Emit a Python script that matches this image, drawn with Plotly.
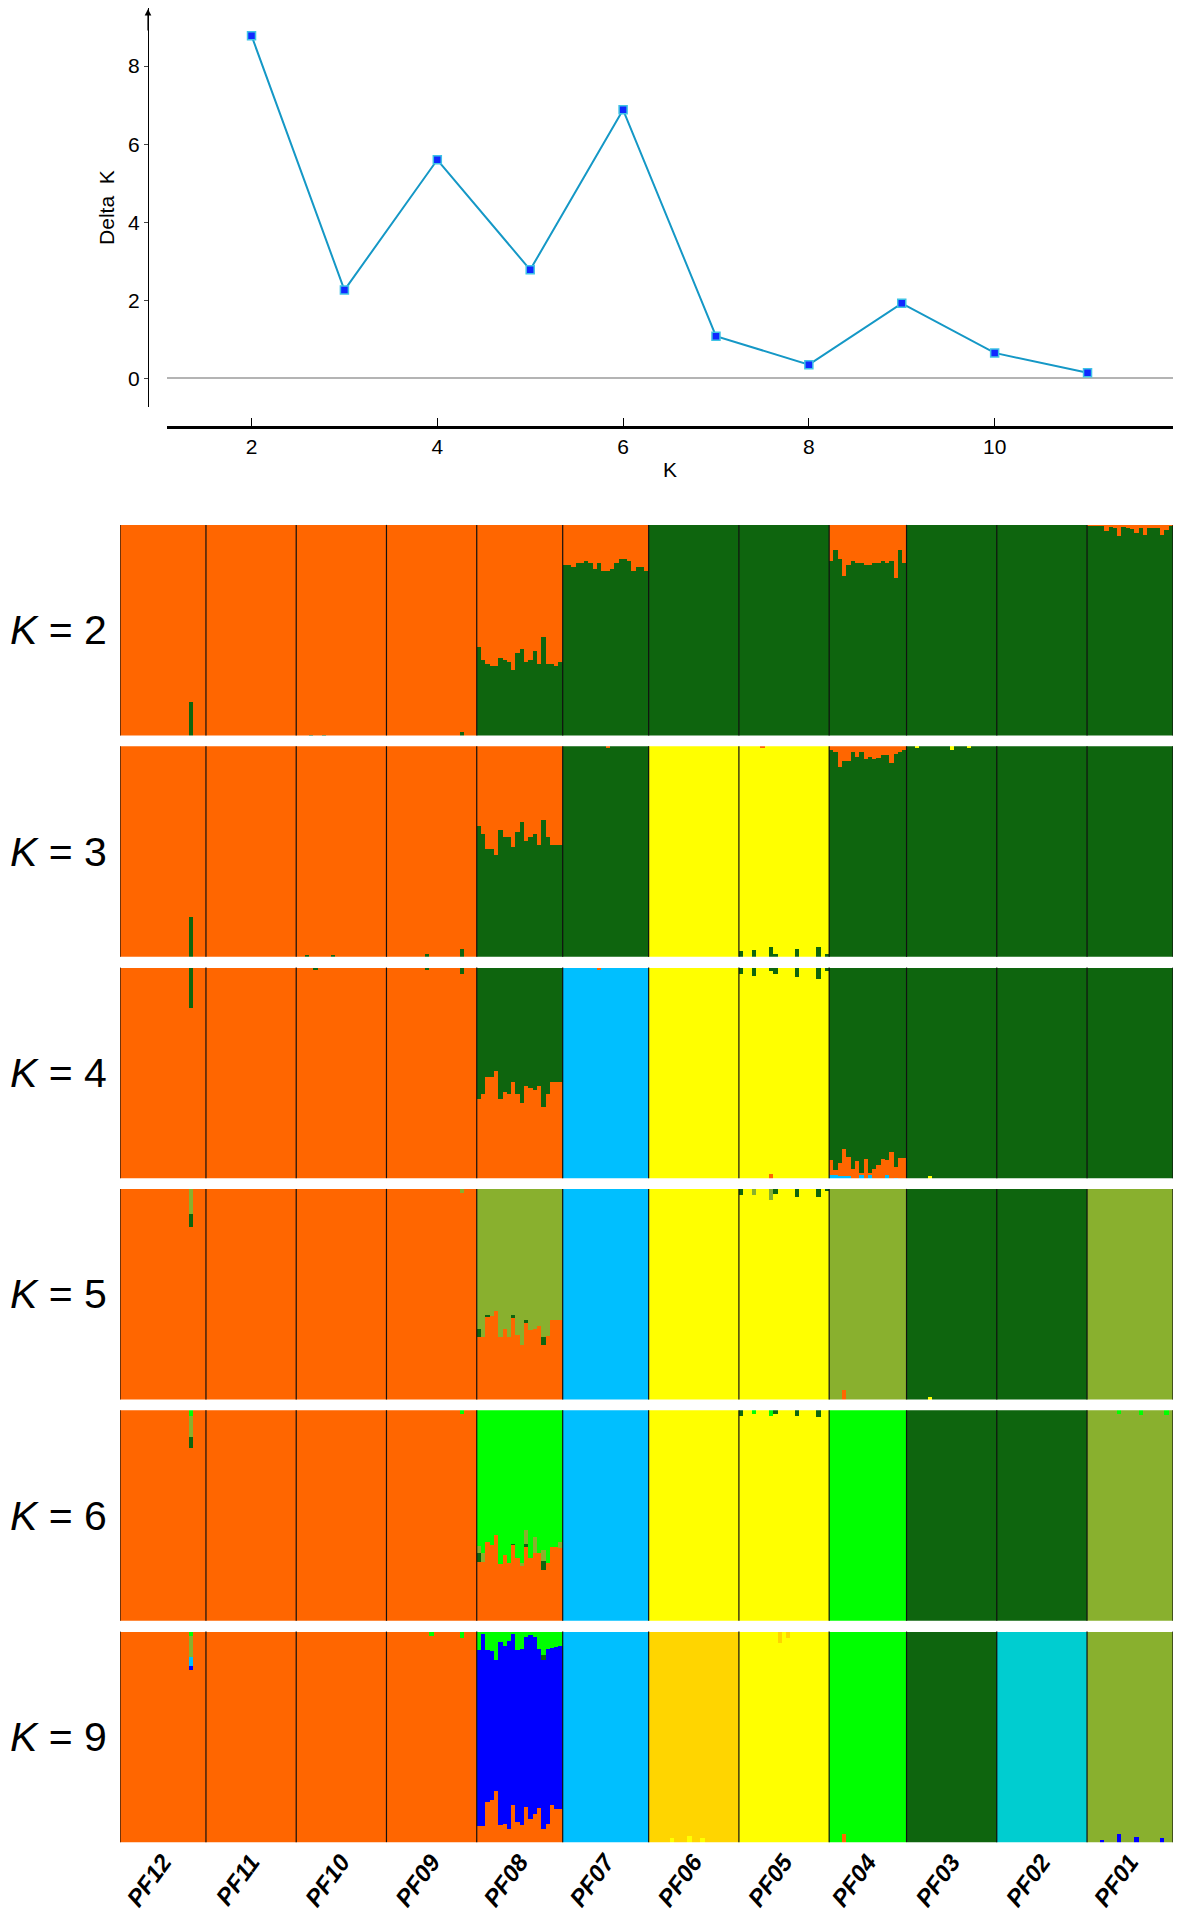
import plotly.graph_objects as go

# the page body adds an 8 px margin on every side; keep the figure inside the window
PAD = 8
W, H = 1181 - 2 * PAD, 1920 - 2 * PAD

# ---- Delta K plot data ----
k_values = [2, 3, 4, 5, 6, 7, 8, 9, 10, 11]
delta_k = [8.78, 2.26, 5.60, 2.78, 6.88, 1.08, 0.35, 1.92, 0.65, 0.14]

# ---- STRUCTURE bar plot data ----
pops = ["PF12", "PF11", "PF10", "PF09", "PF08", "PF07", "PF06", "PF05", "PF04", "PF03", "PF02", "PF01"]
n_ind = [20, 21, 21, 21, 20, 20, 21, 21, 18, 21, 21, 20]
k_panels = [2, 3, 4, 5, 6, 9]

colors = {
    "orange": "#FF6600",
    "dkgreen": "#0E650E",
    "yellow": "#FFFF00",
    "sky": "#00BFFF",
    "olive": "#89B02E",
    "lime": "#00FF00",
    "blue": "#0000FF",
    "gold": "#FFD500",
    "teal": "#00CDD0",
}

# bottom -> top stacking order for each K
stack_order = {
    2: ["dkgreen", "orange"],
    3: ["dkgreen", "yellow", "orange"],
    4: ["sky", "orange", "yellow", "dkgreen"],
    5: ["orange", "sky", "yellow", "dkgreen", "olive"],
    6: ["orange", "sky", "yellow", "dkgreen", "olive", "lime"],
    9: ["orange", "blue", "yellow", "gold", "sky", "teal", "dkgreen", "olive", "lime"],
}

# cluster that takes the remaining share, per population (PF12 ... PF01)
dominant = {
    2: ["orange"] * 5 + ["dkgreen"] * 7,
    3: ["orange"] * 5 + ["dkgreen", "yellow", "yellow"] + ["dkgreen"] * 4,
    4: ["orange"] * 4 + ["dkgreen", "sky", "yellow", "yellow"] + ["dkgreen"] * 4,
    5: ["orange"] * 4 + ["olive", "sky", "yellow", "yellow", "olive", "dkgreen", "dkgreen", "olive"],
    6: ["orange"] * 4 + ["lime", "sky", "yellow", "yellow", "lime", "dkgreen", "dkgreen", "olive"],
    9: ["orange"] * 4 + ["blue", "sky", "gold", "yellow", "lime", "dkgreen", "teal", "olive"],
}

# admixed populations, one value per individual
k2_pf08_dkgreen = [0.42, 0.36, 0.34, 0.33, 0.33, 0.37, 0.36, 0.35, 0.31, 0.39,
                   0.41, 0.35, 0.36, 0.40, 0.34, 0.47, 0.34, 0.34, 0.33, 0.35]
k2_pf07_orange = [0.19, 0.19, 0.20, 0.18, 0.18, 0.17, 0.18, 0.21, 0.18, 0.22,
                  0.22, 0.21, 0.18, 0.16, 0.16, 0.17, 0.22, 0.20, 0.20, 0.22]
k2_pf04_orange = [0.17, 0.12, 0.16, 0.24, 0.19, 0.17, 0.18, 0.18, 0.19, 0.19,
                  0.18, 0.18, 0.17, 0.18, 0.17, 0.25, 0.12, 0.18]
k2_pf01_orange = [0.003, 0.003, 0.003, 0.003, 0.03, 0.01, 0.016, 0.05, 0.01, 0.016,
                  0.02, 0.04, 0.016, 0.047, 0.016, 0.013, 0.013, 0.047, 0.024, 0.004]
k3_pf08_dkgreen = [0.62, 0.58, 0.51, 0.51, 0.48, 0.60, 0.57, 0.57, 0.52, 0.59,
                   0.64, 0.55, 0.57, 0.58, 0.53, 0.65, 0.57, 0.53, 0.53, 0.53]
k3_pf04_orange = [0.02, 0.03, 0.10, 0.07, 0.07, 0.03, 0.05, 0.03, 0.06, 0.05,
                  0.06, 0.055, 0.045, 0.045, 0.08, 0.04, 0.03, 0.02]
k3_pf05_dkgreen = [0.028, 0, 0, 0.031, 0, 0, 0, 0.047, 0.012, 0, 0,
                   0, 0, 0.038, 0, 0, 0, 0, 0.044, 0, 0.01]
k4_pf08_orange = [0.38, 0.40, 0.48, 0.48, 0.51, 0.38, 0.41, 0.40, 0.46, 0.40,
                  0.36, 0.44, 0.43, 0.42, 0.44, 0.34, 0.40, 0.46, 0.46, 0.46]
k4_pf04_orange = [0.072, 0.025, 0.063, 0.129, 0.088, 0.044, 0.084, 0.005, 0.093, 0.005,
                  0.044, 0.065, 0.092, 0.072, 0.128, 0.052, 0.096, 0.096]
k4_pf04_sky = [0.016, 0.016, 0.01, 0.01, 0.013, 0, 0, 0.02, 0, 0.02,
               0, 0, 0, 0.016, 0, 0.005, 0, 0]
k4_pf05_dkgreen = [0.028, 0, 0, 0.036, 0, 0, 0, 0.016, 0.028, 0, 0,
                   0, 0, 0.044, 0, 0, 0, 0, 0.052, 0, 0.016]
k5_pf08_orange = [0.297, 0.297, 0.395, 0.395, 0.419, 0.297, 0.336, 0.297, 0.387, 0.305,
                  0.261, 0.363, 0.332, 0.336, 0.348, 0.258, 0.302, 0.379, 0.379, 0.379]
k6_pf08_orange = [0.28, 0.28, 0.372, 0.359, 0.407, 0.269, 0.312, 0.275, 0.359, 0.296,
                  0.259, 0.348, 0.296, 0.32, 0.32, 0.241, 0.275, 0.348, 0.348, 0.343]
k9_pf08_orange = [0.079, 0.079, 0.194, 0.202, 0.243, 0.084, 0.087, 0.063, 0.178, 0.098,
                  0.083, 0.17, 0.111, 0.135, 0.162, 0.063, 0.087, 0.179, 0.159, 0.159]
k9_pf08_lime = [0.087, 0.005, 0.087, 0.092, 0.132, 0.048, 0.068, 0.044, 0.005, 0.087,
                0.079, 0.024, 0.016, 0.024, 0.079, 0.111, 0.079, 0.076, 0.071, 0.067]

admix = {
    (2, "PF08", "dkgreen"): k2_pf08_dkgreen,
    (2, "PF07", "orange"): k2_pf07_orange,
    (2, "PF04", "orange"): k2_pf04_orange,
    (2, "PF01", "orange"): k2_pf01_orange,
    (3, "PF08", "dkgreen"): k3_pf08_dkgreen,
    (3, "PF04", "orange"): k3_pf04_orange,
    (3, "PF05", "dkgreen"): k3_pf05_dkgreen,
    (4, "PF08", "orange"): k4_pf08_orange,
    (4, "PF04", "orange"): k4_pf04_orange,
    (4, "PF04", "sky"): k4_pf04_sky,
    (4, "PF05", "dkgreen"): k4_pf05_dkgreen,
    (5, "PF08", "orange"): k5_pf08_orange,
    (6, "PF08", "orange"): k6_pf08_orange,
    (9, "PF08", "orange"): k9_pf08_orange,
    (9, "PF08", "lime"): k9_pf08_lime,
}

# single admixed individuals: (K, population, individual, cluster, share)
minor = [
    (2, "PF12", 16, "dkgreen", 0.16), (2, "PF09", 17, "dkgreen", 0.017),
    (2, "PF10", 3, "dkgreen", 0.005), (2, "PF10", 6, "dkgreen", 0.005),
    (3, "PF12", 16, "dkgreen", 0.19), (3, "PF09", 17, "dkgreen", 0.036),
    (3, "PF09", 9, "dkgreen", 0.01), (3, "PF10", 2, "dkgreen", 0.008),
    (3, "PF10", 8, "dkgreen", 0.006), (3, "PF03", 2, "yellow", 0.008),
    (3, "PF03", 10, "yellow", 0.019), (3, "PF03", 14, "yellow", 0.011),
    (3, "PF07", 10, "orange", 0.006), (3, "PF05", 5, "orange", 0.008),
    (4, "PF12", 16, "dkgreen", 0.19), (4, "PF09", 17, "dkgreen", 0.027),
    (4, "PF09", 9, "dkgreen", 0.01), (4, "PF10", 4, "dkgreen", 0.008),
    (4, "PF05", 7, "orange", 0.02), (4, "PF03", 5, "yellow", 0.01),
    (4, "PF07", 8, "orange", 0.008),
    (5, "PF08", 0, "dkgreen", 0.04), (5, "PF08", 2, "dkgreen", 0.008),
    (5, "PF08", 8, "dkgreen", 0.013), (5, "PF08", 11, "dkgreen", 0.013),
    (5, "PF08", 15, "dkgreen", 0.04),
    (5, "PF05", 0, "dkgreen", 0.028), (5, "PF05", 3, "olive", 0.03),
    (5, "PF05", 7, "olive", 0.05), (5, "PF05", 8, "dkgreen", 0.024),
    (5, "PF05", 13, "dkgreen", 0.036), (5, "PF05", 18, "dkgreen", 0.04),
    (5, "PF05", 20, "dkgreen", 0.01), (5, "PF04", 3, "orange", 0.044),
    (5, "PF12", 16, "dkgreen", 0.06), (5, "PF12", 16, "olive", 0.12),
    (5, "PF09", 17, "olive", 0.02), (5, "PF03", 5, "yellow", 0.01),
    (6, "PF08", 0, "dkgreen", 0.04), (6, "PF08", 8, "dkgreen", 0.005),
    (6, "PF08", 11, "dkgreen", 0.014), (6, "PF08", 15, "dkgreen", 0.044),
    (6, "PF08", 0, "olive", 0.032), (6, "PF08", 1, "olive", 0.04),
    (6, "PF08", 10, "olive", 0.013), (6, "PF08", 11, "olive", 0.068),
    (6, "PF08", 13, "olive", 0.079), (6, "PF08", 15, "olive", 0.05),
    (6, "PF08", 19, "olive", 0.032),
    (6, "PF05", 0, "dkgreen", 0.03), (6, "PF05", 8, "dkgreen", 0.02),
    (6, "PF05", 13, "dkgreen", 0.03), (6, "PF05", 18, "dkgreen", 0.035),
    (6, "PF05", 3, "lime", 0.02), (6, "PF05", 7, "lime", 0.03),
    (6, "PF01", 7, "lime", 0.02), (6, "PF01", 12, "lime", 0.024),
    (6, "PF01", 18, "lime", 0.024),
    (6, "PF12", 16, "dkgreen", 0.05), (6, "PF12", 16, "olive", 0.10),
    (6, "PF12", 16, "lime", 0.03),
    (6, "PF09", 17, "lime", 0.02),
    (9, "PF08", 15, "dkgreen", 0.024),
    (9, "PF12", 16, "blue", 0.02), (9, "PF12", 16, "lime", 0.02),
    (9, "PF12", 16, "sky", 0.04), (9, "PF12", 16, "olive", 0.10),
    (9, "PF06", 5, "yellow", 0.02), (9, "PF06", 9, "yellow", 0.03),
    (9, "PF06", 12, "yellow", 0.02),
    (9, "PF05", 9, "gold", 0.05), (9, "PF05", 11, "gold", 0.03),
    (9, "PF04", 3, "orange", 0.04),
    (9, "PF01", 3, "blue", 0.01), (9, "PF01", 7, "blue", 0.04),
    (9, "PF01", 11, "blue", 0.025), (9, "PF01", 17, "blue", 0.02),
    (9, "PF09", 10, "lime", 0.02), (9, "PF09", 17, "lime", 0.03),
]


def build_q(k):
    q = {c: [] for c in stack_order[k]}
    for p, pop in enumerate(pops):
        for i in range(n_ind[p]):
            share = {c: 0.0 for c in stack_order[k]}
            for (kk, pp, cl), vals in admix.items():
                if kk == k and pp == pop:
                    share[cl] += vals[i]
            for kk, pp, ii, cl, v in minor:
                if kk == k and pp == pop and ii == i:
                    share[cl] += v
            dom = dominant[k][p]
            share[dom] = 1 - sum(v for c, v in share.items() if c != dom)
            for c in stack_order[k]:
                q[c].append(share[c])
    return q


# positions below are measured in window pixels
def px_x(v):
    return (v - PAD) / W


def px_y(v):
    return 1 - (v - PAD) / H


fig = go.Figure()

# ---- top: Delta K ----
fig.add_trace(go.Scatter(
    x=k_values, y=delta_k, mode="lines+markers", showlegend=False,
    line=dict(color="#1598C6", width=2),
    marker=dict(symbol="square", size=8, color="#1028FF", line=dict(color="#3FC3E6", width=1.5)),
    xaxis="x", yaxis="y"))

layout = dict(
    width=W, height=H, margin=dict(l=0, r=0, t=0, b=0),
    plot_bgcolor="white", paper_bgcolor="white",
    font=dict(family="Liberation Sans, Arial", color="black"),
    barmode="stack", bargap=0, showlegend=False,
    xaxis=dict(domain=[px_x(167), 1], anchor="free", position=px_y(428),
               range=[1.09, 11.92], tickvals=[2, 4, 6, 8, 10], ticks="inside", ticklen=8,
               tickcolor="black", showline=True, linecolor="black", linewidth=3,
               showgrid=False, zeroline=False, tickfont=dict(size=21),
               title=dict(text="K", font=dict(size=21), standoff=4)),
    yaxis=dict(domain=[px_y(408), 1], anchor="free", position=px_x(148),
               range=[-0.74, 9.49], tickvals=[0, 2, 4, 6, 8], ticks="outside", ticklen=4,
               showline=True, linecolor="black", linewidth=1.2, showgrid=False,
               zeroline=True, zerolinecolor="#B4B4B4", zerolinewidth=1.5,
               tickfont=dict(size=21),
               title=dict(text="Delta\u00a0\u00a0K", font=dict(size=21), standoff=6)),
)

annotations = [dict(x=px_x(148), y=1, xref="paper", yref="paper",
                    ax=0, ay=24, axref="pixel", ayref="pixel",
                    showarrow=True, arrowhead=2, arrowsize=1.1, arrowwidth=1.2,
                    arrowcolor="black", text="")]
shapes = []

# ---- bottom: admixture panels ----
total = sum(n_ind)
bounds = [0]
for n in n_ind:
    bounds.append(bounds[-1] + n)
centers = [(bounds[i] + bounds[i + 1]) / 2 - 0.5 for i in range(len(pops))]
ind_x = list(range(total))

for j, k in enumerate(k_panels):
    ax_id = j + 2
    xa, ya = f"x{ax_id}", f"y{ax_id}"
    q = build_q(k)
    for c in stack_order[k]:
        fig.add_trace(go.Bar(x=ind_x, y=q[c], width=1, marker=dict(color=colors[c], line=dict(width=0)),
                             xaxis=xa, yaxis=ya, showlegend=False, hoverinfo="skip"))
    top = 526 + 221.8 * j
    bot = min(top + 211, 1911)
    last = j == len(k_panels) - 1
    layout[f"xaxis{ax_id}"] = dict(
        domain=[px_x(120), 1], anchor=ya, range=[-0.5, total - 0.5],
        showgrid=False, zeroline=False, showline=False, ticks="",
        showticklabels=last, tickvals=centers if last else None,
        ticktext=[f"<b><i>{p}</i></b>" for p in pops] if last else None,
        tickangle=-54, tickfont=dict(size=24, family="Liberation Sans, Arial"))
    layout[f"yaxis{ax_id}"] = dict(
        domain=[px_y(bot), px_y(top)], anchor=xa, range=[0, 1],
        showgrid=False, zeroline=False, showticklabels=False, ticks="")
    for b in bounds:
        shapes.append(dict(type="line", xref=xa, yref=f"{ya} domain",
                           x0=b - 0.5, x1=b - 0.5, y0=0, y1=1,
                           line=dict(color="#111111", width=1.2)))
    annotations.append(dict(x=0, y=px_y((top + bot) / 2), xref="paper", yref="paper",
                            xanchor="left", yanchor="middle", showarrow=False,
                            text=f"<i>K</i> = {k}", font=dict(size=41, family="Liberation Sans, Arial")))

layout["annotations"] = annotations
layout["shapes"] = shapes
fig.update_layout(**layout)

fig.write_html("out.html")
